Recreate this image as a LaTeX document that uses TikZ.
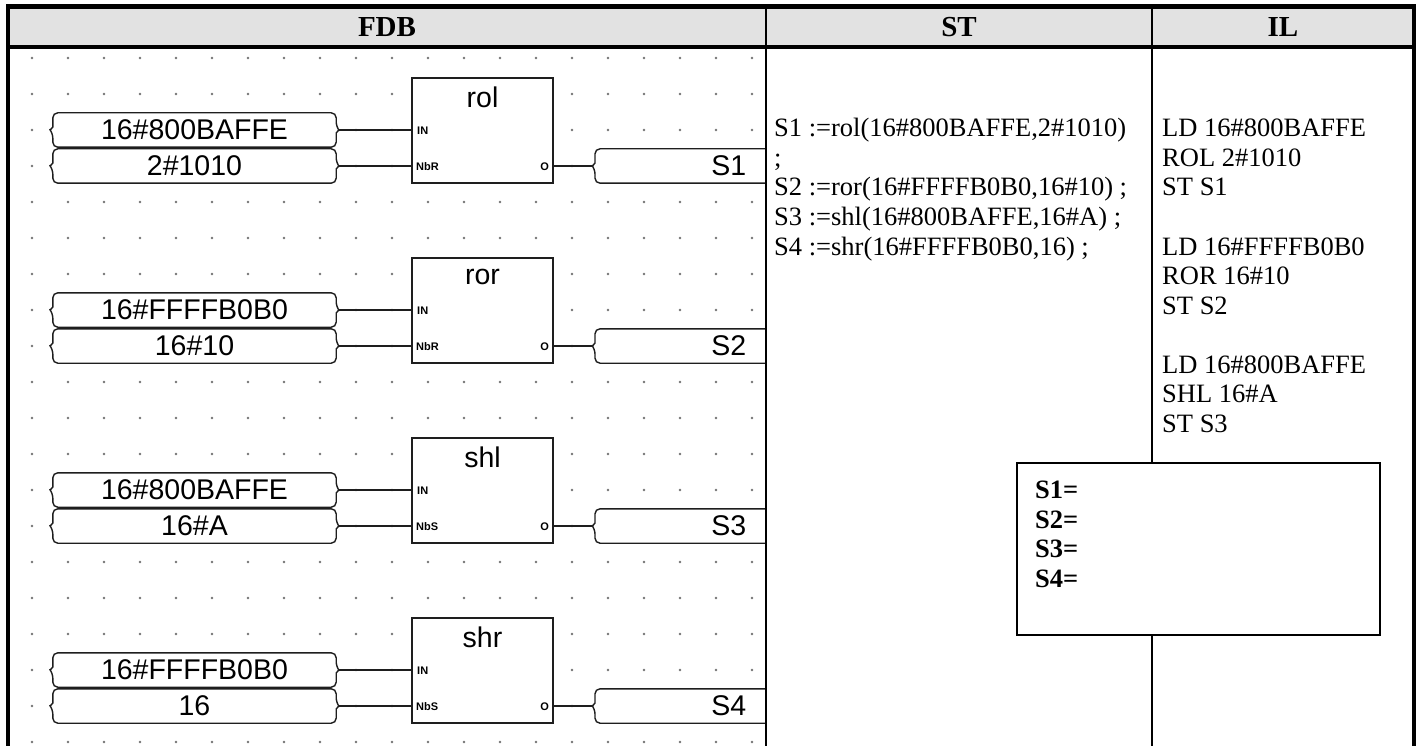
\documentclass[tikz,border=0pt]{standalone}
\usepackage{fontspec}
\setmainfont{Liberation Serif}
\setsansfont{Liberation Sans}
\usepackage{xcolor}
\usepackage{tikz}
\usetikzlibrary{calc, positioning}
\definecolor{headgray}{RGB}{226, 226, 226}
\definecolor{griddot}{RGB}{115, 115, 115}
\definecolor{wiregray}{RGB}{30, 30, 30}

\begin{document}
\begin{tikzpicture}[
    x=1pt, y=-1pt,
    header/.style={font=\fontsize{29}{30}\selectfont\bfseries, inner sep=0pt},
    constbox/.style={rectangle, fill=white, minimum width=283pt, minimum height=34pt, inner sep=0pt, font=\sffamily\fontsize{28.5}{30}\selectfont},
    resultbox/.style={rectangle, fill=white, anchor=west, minimum width=200pt, minimum height=34pt, inner sep=0pt, text width=102pt, align=right, font=\sffamily\fontsize{28.5}{30}\selectfont},
    funcbox/.style={rectangle, draw=wiregray, fill=white, line width=1.6pt, minimum width=141pt, minimum height=105pt, inner sep=0pt},
    functitle/.style={font=\sffamily\fontsize{28.5}{30}\selectfont, inner sep=0pt},
    pin/.style={font=\sffamily\bfseries\fontsize{11}{11}\selectfont, inner sep=0pt},
    codeline/.style={anchor=base west, inner sep=0pt, font=\fontsize{26.5}{30}\selectfont},
    capline/.style={draw=wiregray, line width=1.4pt, rounded corners=5pt},
    wire/.style={draw=wiregray, line width=1.4pt}
]
\useasboundingbox (0,0) rectangle (1416,746);
% header row
\fill[headgray] (8,6) rectangle (1414,47);
\node[header] (fdbhead) at (387, 27) {FDB};
\node[header] (sthead) at (959, 27) {ST};
\node[header] (ilhead) at (1283, 27) {IL};
% FDB sheet
\begin{scope}
\clip (8,47) rectangle (766,746);
\foreach \c in {0,...,20}
  \foreach \r in {0,...,19}
    \fill[griddot] (32+36*\c, 58+36*\r) circle[radius=1.3];
% rol
\node[constbox] (in1a) at (194.5, 130) {16\#800BAFFE};
\node[constbox] (in1b) at (194.5, 166) {2\#1010};
\node[funcbox] (rol) at (482.5, 130.5) {};
\node[functitle] (rolname) at (482.5, 97) {rol};
\node[pin, anchor=west] (rolin) at (417, 131) {IN}; \node[pin, anchor=west] (rolnb) at (416, 167) {NbR};
\node[pin, anchor=east] (rolout) at (549, 167) {O};
\node[resultbox] (res1) at (595, 166) {S1};
% ror
\node[constbox] (in2a) at (194.5, 310) {16\#FFFFB0B0};
\node[constbox] (in2b) at (194.5, 346) {16\#10};
\node[funcbox] (ror) at (482.5, 310.5) {};
\node[functitle] (rorname) at (482.5, 277) {ror};
\node[pin, anchor=west] (rorin) at (417, 311) {IN}; \node[pin, anchor=west] (rornb) at (416, 347) {NbR};
\node[pin, anchor=east] (rorout) at (549, 347) {O};
\node[resultbox] (res2) at (595, 346) {S2};
% shl
\node[constbox] (in3a) at (194.5, 490) {16\#800BAFFE};
\node[constbox] (in3b) at (194.5, 526) {16\#A};
\node[funcbox] (shl) at (482.5, 490.5) {};
\node[functitle] (shlname) at (482.5, 457) {shl};
\node[pin, anchor=west] (shlin) at (417, 491) {IN}; \node[pin, anchor=west] (shlnb) at (416, 527) {NbS};
\node[pin, anchor=east] (shlout) at (549, 527) {O};
\node[resultbox] (res3) at (595, 526) {S3};
% shr
\node[constbox] (in4a) at (194.5, 670) {16\#FFFFB0B0};
\node[constbox] (in4b) at (194.5, 706) {16};
\node[funcbox] (shr) at (482.5, 670.5) {};
\node[functitle] (shrname) at (482.5, 637) {shr};
\node[pin, anchor=west] (shrin) at (417, 671) {IN}; \node[pin, anchor=west] (shrnb) at (416, 707) {NbS};
\node[pin, anchor=east] (shrout) at (549, 707) {O};
\node[resultbox] (res4) at (595, 706) {S4};
% variable outlines
\foreach \n in {in1a,in1b,in2a,in2b,in3a,in3b,in4a,in4b,res1,res2,res3,res4}
  \draw[capline] (\n.north) -- (\n.north east) -- ([yshift=3pt]\n.east) [sharp corners] -- ([xshift=2.5pt]\n.east) -- ([yshift=-3pt]\n.east) [rounded corners=5pt] -- (\n.south east) -- (\n.south west) -- ([yshift=-3pt]\n.west) [sharp corners] -- ([xshift=-2.5pt]\n.west) -- ([yshift=3pt]\n.west) [rounded corners=5pt] -- (\n.north west) -- cycle;
% wires
\draw[wire] ([xshift=2.5pt]in1a.east) -- (in1a.east -| rol.west); \draw[wire] ([xshift=2.5pt]in1b.east) -- (in1b.east -| rol.west);
\draw[wire] (rol.east |- res1.west) -- ([xshift=-2.5pt]res1.west);
\draw[wire] ([xshift=2.5pt]in2a.east) -- (in2a.east -| ror.west); \draw[wire] ([xshift=2.5pt]in2b.east) -- (in2b.east -| ror.west);
\draw[wire] (ror.east |- res2.west) -- ([xshift=-2.5pt]res2.west);
\draw[wire] ([xshift=2.5pt]in3a.east) -- (in3a.east -| shl.west); \draw[wire] ([xshift=2.5pt]in3b.east) -- (in3b.east -| shl.west);
\draw[wire] (shl.east |- res3.west) -- ([xshift=-2.5pt]res3.west);
\draw[wire] ([xshift=2.5pt]in4a.east) -- (in4a.east -| shr.west); \draw[wire] ([xshift=2.5pt]in4b.east) -- (in4b.east -| shr.west);
\draw[wire] (shr.east |- res4.west) -- ([xshift=-2.5pt]res4.west);
\end{scope}
% ST column
\foreach \t [count=\i from 0] in {{S1 :=rol(16\#800BAFFE,2\#1010)}, {;}, {S2 :=ror(16\#FFFFB0B0,16\#10) ;}, {S3 :=shl(16\#800BAFFE,16\#A) ;}, {S4 :=shr(16\#FFFFB0B0,16) ;}}
  \node[codeline] (st\i) at (774, 137+29.5*\i) {\t};
% IL column
\foreach \t [count=\i from 0] in {{LD 16\#800BAFFE}, {ROL 2\#1010}, {ST S1}, {}, {LD 16\#FFFFB0B0}, {ROR 16\#10}, {ST S2}, {}, {LD 16\#800BAFFE}, {SHL 16\#A}, {ST S3}}
  \node[codeline] (il\i) at (1162, 137+29.5*\i) {\t};
% table rules
\draw[line width=2.5pt] (766,6) -- (766,746);
\draw[line width=2.5pt] (1152,6) -- (1152,746);
\draw[line width=4pt] (8,47.5) -- (1414,47.5);
\draw[line width=4.5pt] (8,746) -- (8,6.5) -- (1414,6.5) -- (1414,746);
% result box
\node[draw, line width=2.2pt, fill=white, minimum width=363pt, minimum height=172pt, anchor=north west, inner sep=0pt] (answer) at (1016,462) {};
\foreach \t [count=\i from 0] in {S1=, S2=, S3=, S4=}
  \node[codeline, font=\fontsize{26.5}{30}\selectfont\bfseries] (ans\i) at (1035, 498.5+29.5*\i) {\t};
\end{tikzpicture}
\end{document}
